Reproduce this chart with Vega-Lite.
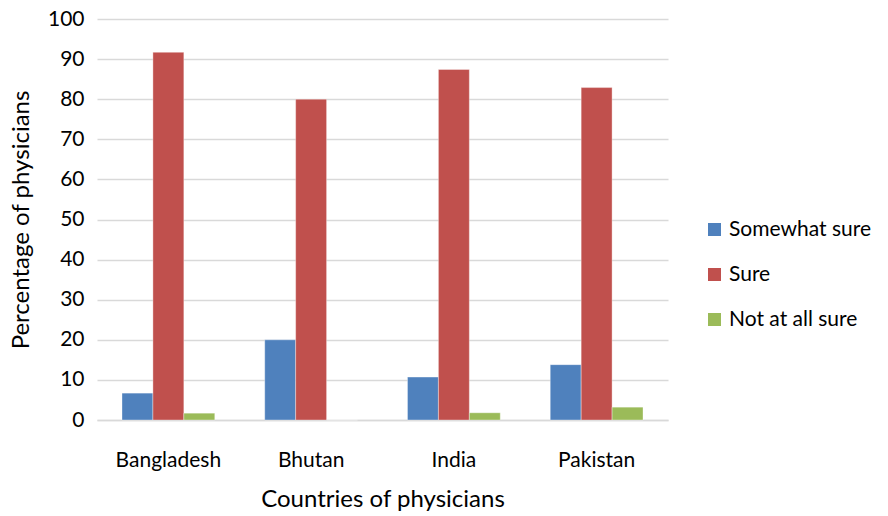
{
  "$schema": "https://vega.github.io/schema/vega-lite/v6.json",
  "width": 571,
  "height": 401,
  "autosize": {"type": "none"},
  "padding": {"left": 97, "top": 19, "right": 220, "bottom": 96},
  "background": "white",
  "config": {
    "font": "Lato",
    "view": {"stroke": null}
  },
  "data": {
    "values": [
      {"country": "Bangladesh", "response": "Somewhat sure", "pct": 6.7},
      {"country": "Bangladesh", "response": "\u00a0Sure", "pct": 91.7},
      {"country": "Bangladesh", "response": "Not at all sure", "pct": 1.7},
      {"country": "Bhutan", "response": "Somewhat sure", "pct": 20},
      {"country": "Bhutan", "response": "\u00a0Sure", "pct": 80},
      {"country": "Bhutan", "response": "Not at all sure", "pct": 0},
      {"country": "India", "response": "Somewhat sure", "pct": 10.7},
      {"country": "India", "response": "\u00a0Sure", "pct": 87.4},
      {"country": "India", "response": "Not at all sure", "pct": 1.8},
      {"country": "Pakistan", "response": "Somewhat sure", "pct": 13.8},
      {"country": "Pakistan", "response": "\u00a0Sure", "pct": 82.9},
      {"country": "Pakistan", "response": "Not at all sure", "pct": 3.2}
    ]
  },
  "mark": {"type": "bar", "stroke": "white", "strokeWidth": 0.6, "strokeOpacity": 0.6},
  "encoding": {
    "x": {
      "field": "country",
      "type": "nominal",
      "sort": ["Bangladesh", "Bhutan", "India", "Pakistan"],
      "scale": {"paddingInner": 0.35, "paddingOuter": 0.175},
      "axis": {
        "title": "Countries of physicians",
        "titleFont": "Lato",
        "titleFontSize": 24,
        "titleFontWeight": "normal",
        "titleColor": "#000",
        "titlePadding": 17,
        "labelFontSize": 21,
        "labelColor": "#000",
        "labelAngle": 0,
        "labelPadding": 29,
        "ticks": false,
        "domainColor": "#D9D9D9",
        "domainWidth": 1.5
      }
    },
    "xOffset": {
      "field": "response",
      "type": "nominal",
      "sort": ["Somewhat sure", "\u00a0Sure", "Not at all sure"],
      "scale": {"paddingInner": 0, "paddingOuter": 0}
    },
    "y": {
      "field": "pct",
      "type": "quantitative",
      "scale": {"domain": [0, 100]},
      "axis": {
        "title": "Percentage of physicians",
        "titleFontSize": 24,
        "titleFontWeight": "normal",
        "titleColor": "#000",
        "titlePadding": 14,
        "values": [0, 10, 20, 30, 40, 50, 60, 70, 80, 90, 100],
        "labelFontSize": 21,
        "labelColor": "#000",
        "labelPadding": 13,
        "ticks": false,
        "domain": false,
        "gridColor": "#D9D9D9",
        "gridWidth": 1.5
      }
    },
    "color": {
      "field": "response",
      "type": "nominal",
      "sort": ["Somewhat sure", "\u00a0Sure", "Not at all sure"],
      "scale": {
        "domain": ["Somewhat sure", "\u00a0Sure", "Not at all sure"],
        "range": ["#4F81BD", "#C0504D", "#9BBB59"]
      },
      "legend": {
        "title": null,
        "orient": "none",
        "legendX": 607,
        "legendY": 200,
        "symbolType": "square",
        "symbolSize": 169,
        "symbolStrokeWidth": 0,
        "labelFontSize": 21,
        "labelColor": "#000",
        "labelOffset": 4,
        "rowPadding": 23
      }
    }
  }
}
